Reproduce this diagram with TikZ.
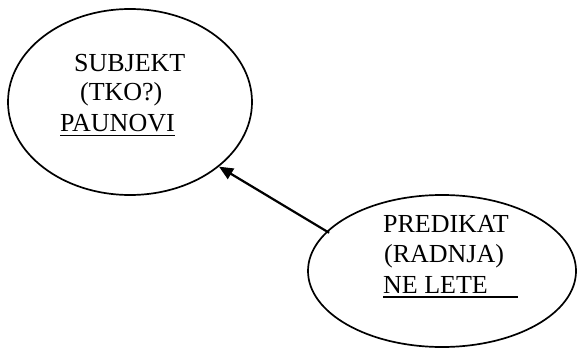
\documentclass[tikz,border=0pt]{standalone}
\usepackage{fontspec}
\setmainfont{Liberation Serif}
\usepackage{tikz}
\usetikzlibrary{arrows.meta,shapes.geometric}

\newcommand{\ulword}[2]{\setbox0\hbox{#1\hspace{#2}}\rlap{\rule[-4.5pt]{\wd0}{1.8pt}}#1}

\begin{document}
\begin{tikzpicture}[
    x=1pt, y=1pt,
    > = {Triangle[length=14pt,width=12pt]}, % arrow head style
    bubble/.style={draw, ellipse, line width=1.7pt, inner sep=0pt},
    word/.style={anchor=base west, inner sep=0pt, font=\fontsize{26}{30}\selectfont},
    line width=2.2pt
]
\useasboundingbox (0,0) rectangle (577,351);

% Nodes
\node[bubble, minimum width=244pt, minimum height=186pt] (subj) at (130,249) {};
\node[bubble, minimum width=268pt, minimum height=152pt] (pred) at (442,80) {};

\node[word] (subjname) at (73,279) {SUBJEKT};
\node[word] (subjq) at (79,250) {(TKO?)};
\node[word] (subjex) at (59,219) {\ulword{PAUNOVI}{0pt}};

\node[word] (predname) at (382,119) {PREDIKAT};
\node[word] (predq) at (383,89) {(RADNJA)};
\node[word] (predex) at (382,58) {\ulword{NE LETE}{30pt}};

% Edges
\draw[->, shorten <=-3pt] (pred.161.6) -- (subj.-36.3);

\end{tikzpicture}
\end{document}
